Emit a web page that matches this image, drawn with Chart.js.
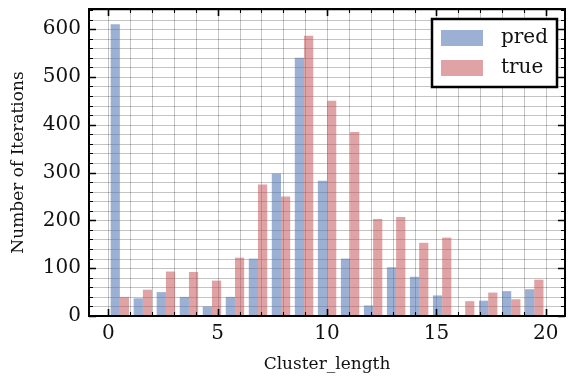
<!DOCTYPE html>
<html>
<head>
<meta charset="utf-8">
<script src="https://cdn.jsdelivr.net/npm/chart.js@4.4.1/dist/chart.umd.min.js"></script>
<style>
  html, body { margin: 0; padding: 0; background: #ffffff; }
  #wrap { width: 568px; height: 378px; }
</style>
</head>
<body>
<div id="wrap"><canvas id="c" width="568" height="378"></canvas></div>
<script>
// ---- data ----
const binStart = 0;
const binEnd = 20;
const binCount = 19;
const predCounts = [610, 37, 50, 40, 20, 40, 120, 298, 540, 283, 120, 22, 102, 82, 43, 0, 32, 52, 56];
const trueCounts = [40, 55, 93, 92, 74, 122, 275, 250, 586, 450, 385, 203, 207, 153, 164, 31, 49, 35, 76];
const seriesLabels = ['pred', 'true'];
const xTickLabels = [0, 5, 10, 15, 20];
const yTickLabels = [0, 100, 200, 300, 400, 500, 600];
const xMinorStep = 1;
const yMinorStep = 20;
const xAxisTitle = 'Cluster_length';
const yAxisTitle = 'Number of Iterations';

const binWidth = (binEnd - binStart) / binCount;
const binCenters = predCounts.map((_, i) => binStart + (i + 0.5) * binWidth);

const serif = "'DejaVu Serif', 'Liberation Serif', serif";
const predColor = 'rgba(76,114,176,0.56)';
const trueColor = 'rgba(196,78,82,0.52)';

const decorPlugin = {
  id: 'decor',
  beforeDatasetsDraw(chart) {
    const ctx = chart.ctx, a = chart.chartArea;
    const xs = chart.scales.x, ys = chart.scales.y;
    ctx.save();
    ctx.strokeStyle = 'rgba(0,0,0,0.26)';
    ctx.lineWidth = 0.9;
    for (let v = Math.ceil(xs.min); v <= xs.max; v += xMinorStep) {
      const px = Math.round(xs.getPixelForValue(v)) + 0.5;
      ctx.beginPath(); ctx.moveTo(px, a.top); ctx.lineTo(px, a.bottom); ctx.stroke();
    }
    for (let v = 0; v <= ys.max; v += yMinorStep) {
      const py = Math.round(ys.getPixelForValue(v)) + 0.5;
      ctx.beginPath(); ctx.moveTo(a.left, py); ctx.lineTo(a.right, py); ctx.stroke();
    }
    ctx.restore();
  },
  afterDatasetsDraw(chart) {
    const ctx = chart.ctx, a = chart.chartArea;
    const xs = chart.scales.x, ys = chart.scales.y;
    ctx.save();
    ctx.strokeStyle = '#000';
    // ticks (inside, all four sides)
    for (let v = Math.ceil(xs.min); v <= xs.max; v += xMinorStep) {
      const major = xTickLabels.includes(v);
      const len = major ? 7 : 4;
      ctx.lineWidth = major ? 1.6 : 1.1;
      const px = Math.round(xs.getPixelForValue(v)) + 0.5;
      ctx.beginPath();
      ctx.moveTo(px, a.bottom); ctx.lineTo(px, a.bottom - len);
      ctx.moveTo(px, a.top); ctx.lineTo(px, a.top + len);
      ctx.stroke();
    }
    for (let v = 0; v <= ys.max; v += yMinorStep) {
      const major = yTickLabels.includes(v);
      const len = major ? 7 : 4;
      ctx.lineWidth = major ? 1.6 : 1.1;
      const py = Math.round(ys.getPixelForValue(v)) + 0.5;
      ctx.beginPath();
      ctx.moveTo(a.left, py); ctx.lineTo(a.left + len, py);
      ctx.moveTo(a.right, py); ctx.lineTo(a.right - len, py);
      ctx.stroke();
    }
    // frame
    ctx.lineWidth = 2;
    ctx.strokeRect(a.left, a.top, a.right - a.left, a.bottom - a.top);

    // legend
    const bx = a.right - 133, by = a.top + 10, bw = 125, bh = 68;
    ctx.fillStyle = '#fff';
    ctx.fillRect(bx, by, bw, bh);
    ctx.lineWidth = 2.5;
    ctx.strokeRect(bx, by, bw, bh);
    ctx.font = '20px ' + serif;
    ctx.textBaseline = 'middle';
    ctx.textAlign = 'left';
    chart.data.datasets.forEach((ds, i) => {
      const rowY = by + 19 + i * 30;
      ctx.fillStyle = ds.backgroundColor;
      ctx.fillRect(bx + 9, rowY - 8, 42, 16);
      ctx.fillStyle = '#111';
      ctx.fillText(ds.label, bx + 69, rowY);
    });
    ctx.restore();
  }
};

new Chart(document.getElementById('c'), {
  type: 'bar',
  data: {
    datasets: [
      { label: seriesLabels[0], data: binCenters.map((x, i) => ({ x, y: predCounts[i] })), backgroundColor: predColor, borderWidth: 0 },
      { label: seriesLabels[1], data: binCenters.map((x, i) => ({ x, y: trueCounts[i] })), backgroundColor: trueColor, borderWidth: 0 }
    ]
  },
  options: {
    responsive: false,
    animation: false,
    events: [],
    categoryPercentage: 0.8,
    barPercentage: 1.0,
    layout: { padding: { left: 0, right: 3, top: 9, bottom: 0 } },
    plugins: { legend: { display: false }, tooltip: { enabled: false } },
    scales: {
      x: {
        type: 'linear',
        offset: false,
        min: -0.885,
        max: 20.88,
        grid: { display: false, drawTicks: false, offset: false },
        border: { display: false },
        afterBuildTicks: (s) => { s.ticks = xTickLabels.map(v => ({ value: v })); },
        afterFit: (s) => { s.height = 62; s.paddingLeft = 0; s.paddingRight = 0; },
        ticks: { color: '#111', padding: 6, maxRotation: 0, autoSkip: false, font: { family: serif, size: 20 } },
        title: { display: true, text: xAxisTitle, color: '#111', font: { family: serif, size: 17 }, padding: { top: 0, bottom: 3 } }
      },
      y: {
        min: 0,
        max: 642,
        grid: { display: false, drawTicks: false },
        border: { display: false },
        afterBuildTicks: (s) => { s.ticks = yTickLabels.map(v => ({ value: v })); },
        afterFit: (s) => { s.width = 89; s.paddingTop = 0; s.paddingBottom = 0; },
        ticks: { color: '#111', padding: 8, autoSkip: false, font: { family: serif, size: 20 } },
        title: { display: true, text: yAxisTitle, color: '#111', font: { family: serif, size: 17 }, padding: { top: 8, bottom: 0 } }
      }
    }
  },
  plugins: [decorPlugin]
});
</script>
</body>
</html>
